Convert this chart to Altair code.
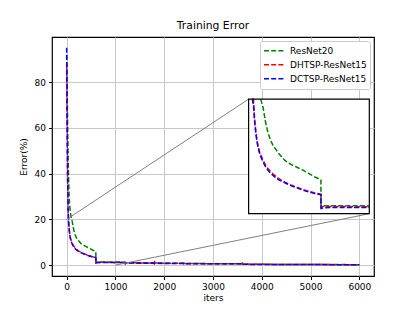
import altair as alt
import pandas as pd

# ---- data ----
iters = [0, 10, 20, 30, 40, 50, 60, 70, 80, 90, 100, 120, 140, 160, 180, 200, 250, 300,
         350, 400, 450, 500, 550, 599, 600, 620, 700, 800, 900, 1000, 1199, 1200, 1210,
         1400, 1600, 1799, 1800, 1810, 2000, 2200, 2399, 2400, 2410, 3000, 3599, 3600,
         3610, 4000, 4500, 5000, 5500, 6000]

resnet20 = [92, 80, 62, 48, 38, 31, 27, 24.5, 22.5, 21.3, 20.4, 18.5, 16.0, 14.2, 12.9,
            12.0, 10.5, 9.3, 8.6, 8.1, 7.6, 7.0, 6.4, 5.9, 1.4, 1.4, 1.4, 1.4, 1.4, 1.35,
            1.3, 1.1, 1.1, 1.05, 1.0, 1.0, 0.9, 0.9, 0.9, 0.85, 0.85, 1.1, 0.7, 0.65, 0.6,
            1.2, 0.4, 0.35, 0.3, 0.28, 0.25, 0.2]

dhtsp = [88, 60, 37, 25, 20, 16.5, 14.3, 12.8, 11.7, 10.9, 10.3, 9.3, 8.5, 7.9, 7.4, 7.0,
         6.1, 5.5, 5.0, 4.6, 4.2, 3.9, 3.6, 3.4, 1.2, 1.25, 1.25, 1.25, 1.2, 1.2, 1.2, 1.0,
         1.0, 1.0, 0.95, 0.9, 1.8, 0.9, 0.85, 0.8, 0.8, 0.7, 0.7, 0.65, 0.6, 0.4, 0.4,
         0.35, 0.3, 0.28, 0.22, 0.18]

dctsp = [95, 62, 38, 24, 19, 16, 14, 12.5, 11.4, 10.6, 10.0, 9.0, 8.2, 7.6, 7.1, 6.7,
         5.9, 5.4, 4.9, 4.5, 4.1, 3.8, 3.5, 3.3, 0.9, 1.0, 1.1, 1.1, 1.1, 1.1, 1.1, 0.3,
         0.9, 0.9, 0.85, 0.8, 0.6, 0.8, 0.75, 0.7, 0.7, 0.6, 0.65, 0.6, 0.55, 0.3, 0.35,
         0.3, 0.28, 0.25, 0.2, 0.15]

series_names = ["ResNet20", "DHTSP-ResNet15", "DCTSP-ResNet15"]
series_values = [resnet20, dhtsp, dctsp]
series_colors = ["#008000", "#ff0000", "#0000ff"]

x_ticks = [0, 1000, 2000, 3000, 4000, 5000, 6000]
y_ticks = [0, 20, 40, 60, 80]

# zoom region and inset placement (in main data coordinates)
zoom_x = [0, 1000]
zoom_y = [0, 20]
inset_x = [3730, 6204]
inset_y = [22.5, 72.6]

# ---- layout ----
W, H = 322, 239
XDOM = [-300, 6300]
YDOM = [-4.75, 99.75]
FONT = "DejaVu Sans"
DASH = [5, 2.2]


def px(v):
    return (v - XDOM[0]) / (XDOM[1] - XDOM[0]) * W


def py(v):
    return (YDOM[1] - v) / (YDOM[1] - YDOM[0]) * H


rows = []
for name, vals in zip(series_names, series_values):
    for i, v in zip(iters, vals):
        rows.append({"iter": i, "err": v, "series": name})
df = pd.DataFrame(rows)

# inset data: points inside the zoom window plus the last point above it
inset_rows = []
for name, vals in zip(series_names, series_values):
    first = next(k for k, v in enumerate(vals) if v <= zoom_y[1])
    for k in range(max(first - 1, 0), len(iters)):
        if iters[k] <= zoom_x[1]:
            inset_rows.append({"iter": iters[k], "err": vals[k], "series": name})
dfi = pd.DataFrame(inset_rows)

xs = alt.Scale(domain=XDOM, nice=False, zero=False)
ys = alt.Scale(domain=YDOM, nice=False, zero=False)
color_scale = alt.Scale(domain=series_names, range=series_colors)

x_axis = alt.Axis(values=x_ticks, format="d", title="iters", grid=True, gridColor="#c8c8c8",
                  gridWidth=1, domain=False, tickColor="black", tickSize=3.5,
                  labelPadding=3, labelFontSize=9, labelFont=FONT, labelColor="black",
                  titleFont=FONT, titleFontSize=9, titleFontWeight="normal",
                  titleColor="black", titlePadding=2)
y_axis = alt.Axis(values=y_ticks, format="d", title="Error(%)", grid=True, gridColor="#c8c8c8",
                  gridWidth=1, domain=False, tickColor="black", tickSize=3.5,
                  labelPadding=3, labelFontSize=9, labelFont=FONT, labelColor="black",
                  titleFont=FONT, titleFontSize=9, titleFontWeight="normal",
                  titleColor="black", titlePadding=6)

base = alt.Chart(df)

main_layers = []
for idx, name in enumerate(series_names):
    enc = dict(
        x=alt.X("iter:Q", scale=xs, axis=x_axis),
        y=alt.Y("err:Q", scale=ys, axis=y_axis),
        color=alt.Color("series:N", scale=color_scale, sort=series_names,
                        legend=alt.Legend(title=None, orient="none",
                                          legendX=208, legendY=4,
                                          symbolType="stroke", symbolSize=400,
                                          symbolDash=DASH, symbolStrokeWidth=1.5,
                                          labelFont=FONT, labelFontSize=9,
                                          labelColor="black", labelOffset=5,
                                          clipHeight=13.3, rowPadding=0,
                                          padding=3, fillColor="white",
                                          strokeColor="#cccccc", cornerRadius=2)),
    )
    main_layers.append(
        base.transform_filter(alt.datum.series == name)
        .mark_line(strokeDash=DASH, strokeWidth=1.5)
        .encode(**enc)
    )

# connector lines and inset frame (main coordinates)
conn = pd.DataFrame({
    "x": [zoom_x[0], zoom_x[1]],
    "y": [zoom_y[1], zoom_y[0]],
    "x2": [inset_x[0], inset_x[1]],
    "y2": [inset_y[1], inset_y[0]],
})
connectors = alt.Chart(conn).mark_rule(color="#808080", strokeWidth=1).encode(
    x=alt.X("x:Q", scale=xs, axis=x_axis), y=alt.Y("y:Q", scale=ys, axis=y_axis),
    x2="x2:Q", y2="y2:Q")

frame_df = pd.DataFrame({"x": [inset_x[0]], "x2": [inset_x[1]],
                         "y": [inset_y[0]], "y2": [inset_y[1]]})
inset_bg = alt.Chart(frame_df).mark_rect(fill="white").encode(
    x=alt.X("x:Q", scale=xs, axis=x_axis), x2="x2:Q",
    y=alt.Y("y:Q", scale=ys, axis=y_axis), y2="y2:Q")

main = alt.layer(*main_layers, connectors, inset_bg)

# inset lines with their own scales mapped onto the inset frame
ixs = alt.Scale(domain=zoom_x, range=[px(inset_x[0]), px(inset_x[1])], nice=False, zero=False)
iys = alt.Scale(domain=zoom_y, range=[py(inset_y[0]), py(inset_y[1])], nice=False,
                zero=False, clamp=True)
inset_layers = []
for name, col in zip(series_names, series_colors):
    inset_layers.append(
        alt.Chart(dfi).transform_filter(alt.datum.series == name)
        .mark_line(strokeDash=DASH, strokeWidth=1.5, color=col)
        .encode(x=alt.X("iter:Q", scale=ixs, axis=None),
                y=alt.Y("err:Q", scale=iys, axis=None))
    )
frame_i = pd.DataFrame({"x": [zoom_x[0]], "x2": [zoom_x[1]],
                        "y": [zoom_y[0]], "y2": [zoom_y[1]]})
inset_border = alt.Chart(frame_i).mark_rect(fill=None, stroke="black", strokeWidth=1.2).encode(
    x=alt.X("x:Q", scale=ixs, axis=None), x2="x2:Q",
    y=alt.Y("y:Q", scale=iys, axis=None), y2="y2:Q")
inset = alt.layer(*inset_layers, inset_border)

chart = alt.layer(main, inset).resolve_scale(
    x="independent", y="independent"
).properties(
    width=W, height=H,
    title=alt.TitleParams("Training Error", font=FONT, fontSize=10.8, fontWeight="normal",
                          color="black", offset=6, anchor="middle"),
    autosize=alt.AutoSizeParams(type="none"),
    padding={"left": 44, "top": 29, "right": 33, "bottom": 27},
).configure_view(stroke="black", strokeWidth=1.2)

chart.save("out.html", embed_options={"renderer": "svg", "actions": False})
